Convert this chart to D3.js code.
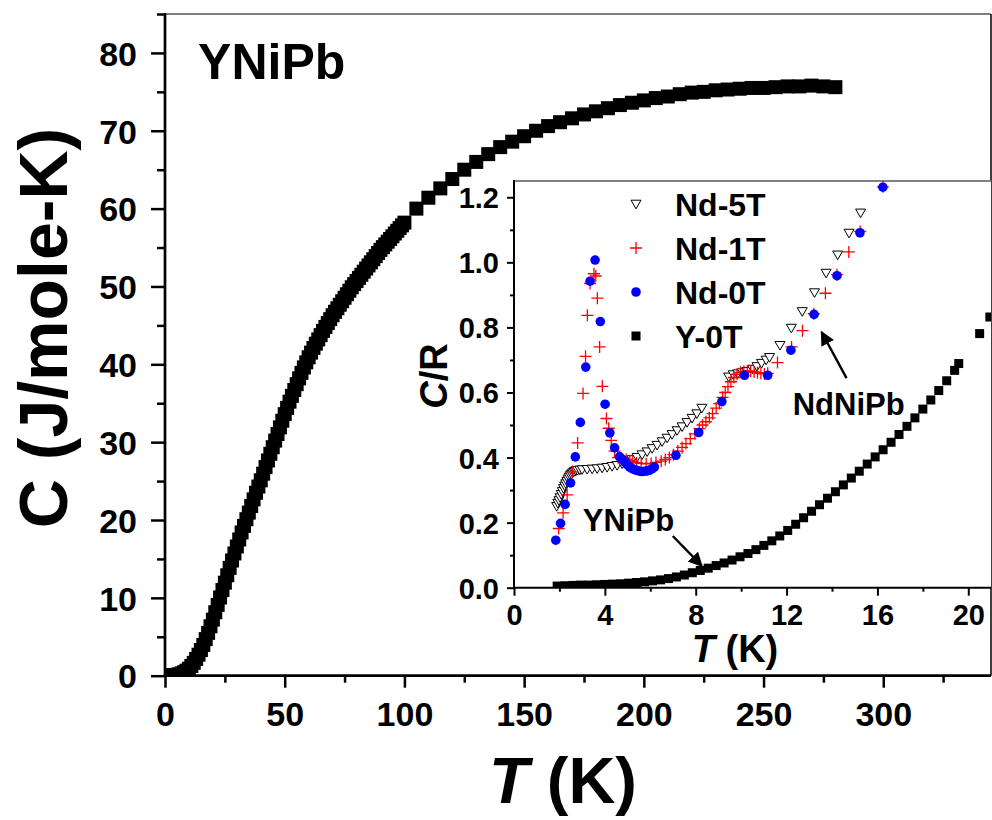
<!DOCTYPE html>
<html>
<head>
<meta charset="utf-8">
<script src="https://cdn.jsdelivr.net/npm/d3@7"></script>
<style>
  body { margin: 0; background: #fff; }
  svg text { font-family: "Liberation Sans", Arial, sans-serif; font-weight: bold; fill: #000; }
</style>
</head>
<body>
<svg id="chart" width="992" height="820"></svg>
<script>
// ---- Main panel: YNiPb specific heat, T (K) vs C (J/mole-K) ----
const mainT = [1.8, 3, 4, 5, 6, 7, 8, 9, 10, 11, 12, 13, 14, 15, 16, 17, 18, 19, 20,
  21, 22, 23, 24, 25, 26, 27, 28, 29, 30, 31, 32, 33, 34, 35, 36, 37, 38, 39, 40,
  41, 42, 43, 44, 45, 46, 47, 48, 49, 50, 51, 52, 53, 54, 55, 56, 57, 58, 59, 60,
  61, 62, 63, 64, 65, 66, 67, 68, 69, 70, 71, 72, 73, 74, 75, 76, 77, 78, 79, 80,
  81, 82, 83, 84, 85, 86, 87, 88, 89, 90, 91, 92, 93, 94, 95, 96, 97, 98, 99, 100,
  105, 110, 115, 120, 125, 130, 135, 140, 145, 150, 155, 160, 165, 170, 175, 180,
  185, 190, 195, 200, 205, 210, 215, 220, 225, 230, 235, 240, 245, 250, 255, 260,
  265, 270, 275, 280];
const mainC = [0.04, 0.06, 0.08, 0.12, 0.18, 0.3, 0.45, 0.65, 0.9, 1.25, 1.65, 2.15, 2.7, 3.3, 3.95, 4.7, 5.5, 6.35, 7.2,
  8.15, 9.1, 10.05, 11.0, 11.95, 12.9, 13.85, 14.8, 15.7, 16.6, 17.5, 18.4, 19.25, 20.1, 20.95, 21.8, 22.65, 23.5, 24.3, 25.1,
  25.95, 26.8, 27.65, 28.5, 29.35, 30.2, 31.05, 31.9, 32.75, 33.6, 34.4, 35.2, 35.95, 36.7, 37.45, 38.2, 38.9, 39.6, 40.25, 40.9,
  41.5, 42.1, 42.65, 43.2, 43.75, 44.3, 44.8, 45.3, 45.8, 46.3, 46.75, 47.2, 47.65, 48.1, 48.55, 49.0, 49.45, 49.9, 50.3, 50.7,
  51.1, 51.5, 51.9, 52.3, 52.7, 53.1, 53.5, 53.9, 54.3, 54.7, 55.05, 55.4, 55.75, 56.1, 56.45, 56.8, 57.15, 57.5, 57.85, 58.2,
  60.0, 61.4, 62.6, 63.8, 65.0, 66.0, 67.0, 67.9, 68.6, 69.3, 70.0, 70.6, 71.1, 71.6, 72.1, 72.5,
  72.9, 73.3, 73.6, 73.9, 74.2, 74.4, 74.7, 74.9, 75.0, 75.2, 75.3, 75.4, 75.5, 75.5, 75.6, 75.7,
  75.7, 75.8, 75.7, 75.6];
const mainXTicks = [0, 50, 100, 150, 200, 250, 300];
const mainXMinor = [25, 75, 125, 175, 225, 275, 325];
const mainYTicks = [0, 10, 20, 30, 40, 50, 60, 70, 80];
const mainYMinor = [5, 15, 25, 35, 45, 55, 65, 75, 85];

// ---- Inset: low-temperature C/R ----
const nd5T_T = [1.88, 1.93, 1.98, 2.03, 2.08, 2.13, 2.18, 2.23, 2.28, 2.33, 2.38, 2.43, 2.48, 2.53, 2.58, 2.63, 2.68, 2.73, 2.80, 2.90, 3.00,
  3.22, 3.44, 3.66, 3.88, 4.10, 4.32, 4.54, 4.76, 4.98, 5.20, 5.42, 5.64, 5.86, 6.08, 6.30, 6.52, 6.74, 6.96, 7.18, 7.40, 7.62, 7.84, 8.05, 8.27,
  9.45, 9.65, 9.85, 10.05, 10.25, 10.50, 10.70, 10.90, 11.10, 11.25,
  11.71, 12.21, 12.69, 13.23, 13.74, 14.25, 14.75, 15.26];
const nd5T_C = [0.250, 0.260, 0.268, 0.277, 0.287, 0.296, 0.305, 0.313, 0.320, 0.327, 0.334, 0.340, 0.345, 0.349, 0.353, 0.356, 0.358, 0.360, 0.361, 0.362, 0.363,
  0.364, 0.365, 0.366, 0.368, 0.370, 0.373, 0.376, 0.381, 0.387, 0.394, 0.401, 0.409, 0.418, 0.428, 0.438, 0.449, 0.460, 0.471, 0.483, 0.495, 0.508, 0.521, 0.535, 0.552,
  0.648, 0.655, 0.658, 0.661, 0.665, 0.672, 0.680, 0.690, 0.700, 0.708,
  0.745, 0.798, 0.849, 0.907, 0.967, 1.023, 1.090, 1.152];

const nd1T_T = [1.97, 2.16, 2.34, 2.57, 2.80, 3.04, 3.15, 3.23, 3.35, 3.52, 3.60, 3.67, 3.77, 3.89, 4.07, 4.17, 4.28, 4.43, 4.58,
  4.72, 4.94, 5.10, 5.23, 5.40, 5.60, 5.82, 6.04, 6.25, 6.48, 6.66, 6.84, 7.02, 7.21, 7.40, 7.57, 7.76, 7.96, 8.16, 8.30, 8.45, 8.60, 8.74, 8.90, 9.04,
  9.18, 9.30, 9.42, 9.55, 9.68, 9.82, 9.97, 10.12, 10.27, 10.42, 10.57, 10.72, 10.87, 11.02, 11.17,
  11.60, 12.22, 12.70, 13.20, 13.71, 14.22, 14.74, 15.24, 16.24];
const nd1T_C = [0.182, 0.230, 0.285, 0.356, 0.445, 0.597, 0.711, 0.837, 0.935, 0.965, 0.958, 0.890, 0.740, 0.619, 0.520, 0.490, 0.453, 0.420, 0.400,
  0.398, 0.394, 0.390, 0.387, 0.384, 0.382, 0.381, 0.382, 0.385, 0.389, 0.394, 0.400, 0.409, 0.420, 0.431, 0.443, 0.458, 0.473, 0.489, 0.500, 0.510, 0.522, 0.535, 0.552, 0.566,
  0.585, 0.600, 0.618, 0.633, 0.646, 0.656, 0.662, 0.665, 0.666, 0.665, 0.663, 0.661, 0.659, 0.657, 0.659,
  0.692, 0.740, 0.790, 0.842, 0.905, 0.962, 1.032, 1.095, 1.232];

const nd0T_T = [1.84, 2.05, 2.25, 2.49, 2.70, 2.92, 3.16, 3.35, 3.57, 3.80, 4.01, 4.22, 4.43, 4.65, 4.76, 4.87, 4.98, 5.09, 5.20, 5.31,
  5.42, 5.53, 5.64, 5.75, 5.86, 5.96, 6.07, 6.18, 7.13, 8.13, 9.15, 10.15, 11.17, 12.19, 13.21, 14.22, 15.23, 16.24];
const nd0T_C = [0.146, 0.198, 0.256, 0.322, 0.402, 0.508, 0.678, 0.942, 1.007, 0.818, 0.564, 0.476, 0.430, 0.402, 0.395, 0.387, 0.378, 0.371, 0.366, 0.363,
  0.360, 0.358, 0.357, 0.358, 0.359, 0.361, 0.365, 0.371, 0.407, 0.477, 0.572, 0.653, 0.653, 0.730, 0.840, 0.959, 1.091, 1.231];

const y0T_T = [1.90, 2.25, 2.60, 2.95, 3.30, 3.65, 4.00, 4.35, 4.70, 5.05, 5.40, 5.75, 6.10, 6.45, 6.80, 7.15, 7.50, 7.85,
  8.20, 8.55, 8.90, 9.25, 9.60, 9.95, 10.30, 10.65, 11.00, 11.35, 11.70, 12.05, 12.40, 12.75, 13.10, 13.45, 13.80,
  14.15, 14.50, 14.85, 15.20, 15.55, 15.90, 16.25, 16.60, 16.95, 17.30, 17.65, 18.00, 18.35, 18.70, 19.05, 19.40, 19.58,
  20.50, 20.95];
const y0T_C = [0.005, 0.006, 0.007, 0.008, 0.008, 0.009, 0.010, 0.011, 0.012, 0.014, 0.016, 0.018, 0.021, 0.024, 0.028, 0.033, 0.039, 0.046,
  0.053, 0.060, 0.068, 0.076, 0.085, 0.095, 0.105, 0.117, 0.130, 0.144, 0.159, 0.176, 0.195, 0.215, 0.235, 0.255, 0.275,
  0.295, 0.316, 0.337, 0.358, 0.380, 0.402, 0.424, 0.447, 0.471, 0.496, 0.522, 0.549, 0.577, 0.606, 0.636, 0.668, 0.689,
  0.781, 0.832];

const insetXTicks = [0, 4, 8, 12, 16, 20];
const insetXMinor = [2, 6, 10, 14, 18];
const insetYTicks = [0, 0.2, 0.4, 0.6, 0.8, 1.0, 1.2];
const insetYMinor = [0.1, 0.3, 0.5, 0.7, 0.9, 1.1];
const legendNames = ["Nd-5T", "Nd-1T", "Nd-0T", "Y-0T"];

const zip = (a, b) => a.map((v, i) => [v, b[i]]);

const svg = d3.select("#chart");

// ---------- main panel ----------
const M = { l: 165, r: 991, t: 14, b: 675.7 };
const x = d3.scaleLinear().domain([0, 345]).range([M.l, M.r]);
const y = d3.scaleLinear().domain([0, 85]).range([M.b, M.t]);

svg.append("clipPath").attr("id", "clipMain")
  .append("rect").attr("x", M.l).attr("y", M.t).attr("width", M.r - M.l).attr("height", M.b - M.t);

const mainSize = 14;
svg.append("g").attr("clip-path", "url(#clipMain)")
  .selectAll("rect").data(zip(mainT, mainC)).join("rect")
  .attr("x", d => x(d[0]) - mainSize / 2)
  .attr("y", d => y(d[1]) - mainSize / 2)
  .attr("width", mainSize).attr("height", mainSize)
  .attr("fill", "#000");

// frame: top and right borders
svg.append("line").attr("x1", M.l).attr("x2", M.r).attr("y1", M.t).attr("y2", M.t)
  .attr("stroke", "#808080").attr("stroke-width", 2);
svg.append("line").attr("x1", M.r).attr("x2", M.r).attr("y1", M.t).attr("y2", M.b)
  .attr("stroke", "#404040").attr("stroke-width", 2);

function styleAxis(g, fontSize, width) {
  g.select(".domain").remove();
  g.selectAll(".tick line").attr("stroke", "#000").attr("stroke-width", width);
  g.selectAll(".tick text").attr("font-size", fontSize).attr("fill", "#000")
    .attr("font-family", '"Liberation Sans", Arial, sans-serif').attr("font-weight", "bold");
}

const gxMinor = svg.append("g").attr("transform", `translate(0,${M.b})`)
  .call(d3.axisBottom(x).tickValues(mainXMinor).tickSize(7).tickSizeOuter(0).tickFormat(""));
styleAxis(gxMinor, 0, 2.5);
const gx = svg.append("g").attr("transform", `translate(0,${M.b})`)
  .call(d3.axisBottom(x).tickValues(mainXTicks).tickSize(12).tickSizeOuter(0).tickFormat(d3.format("d")));
styleAxis(gx, 34, 2.5);
gx.selectAll(".tick text").attr("y", 50).attr("dy", 0);

const gyMinor = svg.append("g").attr("transform", `translate(${M.l},0)`)
  .call(d3.axisLeft(y).tickValues(mainYMinor).tickSize(8).tickSizeOuter(0).tickFormat(""));
styleAxis(gyMinor, 0, 2.5);
const gy = svg.append("g").attr("transform", `translate(${M.l},0)`)
  .call(d3.axisLeft(y).tickValues(mainYTicks).tickSize(14).tickSizeOuter(0).tickFormat(d3.format("d")));
styleAxis(gy, 34, 2.5);
gy.selectAll(".tick text").attr("x", -28).attr("dy", "0.36em");

svg.append("line").attr("x1", M.l).attr("x2", M.l).attr("y1", M.t - 1).attr("y2", M.b + 1.3)
  .attr("stroke", "#000").attr("stroke-width", 2.7);
svg.append("line").attr("x1", M.l - 1.3).attr("x2", M.r).attr("y1", M.b).attr("y2", M.b)
  .attr("stroke", "#000").attr("stroke-width", 2.7);

// axis titles
const yTitle = svg.append("text").attr("transform", "translate(67,328) rotate(-90)")
  .attr("text-anchor", "middle").attr("font-size", 68);
yTitle.append("tspan").text("C (J/mole-K)");

const xTitle = svg.append("text").attr("x", 563).attr("y", 803)
  .attr("text-anchor", "middle").attr("font-size", 65);
xTitle.append("tspan").attr("font-style", "italic").text("T");
xTitle.append("tspan").text(" (K)");

svg.append("text").attr("x", x(13.8)).attr("y", y(76.7)).attr("font-size", 50).text("YNiPb");

// ---------- inset ----------
const I = { l: 514, r: 991, t: 181, b: 587.7 };
const xi = d3.scaleLinear().domain([0, 21]).range([I.l, I.r]);
const yi = d3.scaleLinear().domain([0, 1.25]).range([I.b, I.t]);

svg.append("rect").attr("x", I.l).attr("y", I.t).attr("width", I.r - I.l).attr("height", I.b - I.t)
  .attr("fill", "#fff");
svg.append("clipPath").attr("id", "clipInset")
  .append("rect").attr("x", I.l).attr("y", I.t).attr("width", I.r - I.l).attr("height", I.b - I.t);

svg.append("line").attr("x1", I.l).attr("x2", I.r).attr("y1", I.t).attr("y2", I.t)
  .attr("stroke", "#808080").attr("stroke-width", 2);

const plot = svg.append("g").attr("clip-path", "url(#clipInset)");

const triPath = "M-5,-3.8L5,-3.8L0,4.8Z";
const plusPath = "M-6,0H6M0,-6V6";
const dotR = 4.8;
const sqS = 9;

function drawTri(g, data) {
  g.selectAll(null).data(data).join("path")
    .attr("d", triPath).attr("transform", d => `translate(${xi(d[0])},${yi(d[1])})`)
    .attr("fill", "#fff").attr("stroke", "#000").attr("stroke-width", 1);
}
function drawPlus(g, data) {
  g.selectAll(null).data(data).join("path")
    .attr("d", plusPath).attr("transform", d => `translate(${xi(d[0])},${yi(d[1])})`)
    .attr("fill", "none").attr("stroke", "#ff0000").attr("stroke-width", 1.3);
}
function drawDot(g, data) {
  g.selectAll(null).data(data).join("circle")
    .attr("cx", d => xi(d[0])).attr("cy", d => yi(d[1])).attr("r", dotR)
    .attr("fill", "#0000ff");
}
function drawSq(g, data) {
  g.selectAll(null).data(data).join("rect")
    .attr("x", d => xi(d[0]) - sqS / 2).attr("y", d => yi(d[1]) - sqS / 2)
    .attr("width", sqS).attr("height", sqS).attr("fill", "#000");
}

drawTri(plot.append("g"), zip(nd5T_T, nd5T_C));
drawPlus(plot.append("g"), zip(nd1T_T, nd1T_C));
drawDot(plot.append("g"), zip(nd0T_T, nd0T_C));
drawSq(plot.append("g"), zip(y0T_T, y0T_C));

// inset axes
const gxiMinor = svg.append("g").attr("transform", `translate(0,${I.b})`)
  .call(d3.axisBottom(xi).tickValues(insetXMinor).tickSize(4).tickSizeOuter(0).tickFormat(""));
styleAxis(gxiMinor, 0, 2);
const gxi = svg.append("g").attr("transform", `translate(0,${I.b})`)
  .call(d3.axisBottom(xi).tickValues(insetXTicks).tickSize(8).tickSizeOuter(0).tickFormat(d3.format("d")));
styleAxis(gxi, 29, 2);
gxi.selectAll(".tick text").attr("y", 37).attr("dy", 0);

const gyiMinor = svg.append("g").attr("transform", `translate(${I.l},0)`)
  .call(d3.axisLeft(yi).tickValues(insetYMinor).tickSize(4).tickSizeOuter(0).tickFormat(""));
styleAxis(gyiMinor, 0, 2);
const gyi = svg.append("g").attr("transform", `translate(${I.l},0)`)
  .call(d3.axisLeft(yi).tickValues(insetYTicks).tickSize(7).tickSizeOuter(0).tickFormat(d3.format(".1f")));
styleAxis(gyi, 29, 2);
gyi.selectAll(".tick text").attr("x", -15).attr("dy", "0.36em");

svg.append("line").attr("x1", I.l).attr("x2", I.l).attr("y1", I.t - 1).attr("y2", I.b + 1)
  .attr("stroke", "#000").attr("stroke-width", 2);
svg.append("line").attr("x1", I.l - 1).attr("x2", I.r).attr("y1", I.b).attr("y2", I.b)
  .attr("stroke", "#000").attr("stroke-width", 2);

const xiTitle = svg.append("text").attr("x", 735).attr("y", 662)
  .attr("text-anchor", "middle").attr("font-size", 38);
xiTitle.append("tspan").attr("font-style", "italic").text("T");
xiTitle.append("tspan").text(" (K)");

const yiTitle = svg.append("text").attr("transform", "translate(447,376) rotate(-90)")
  .attr("text-anchor", "middle").attr("font-size", 38);
yiTitle.append("tspan").attr("font-style", "italic").text("C");
yiTitle.append("tspan").text("/R");

// legend
const legY = [204, 248, 292, 336];
const legX = 636;
const lg = svg.append("g");
lg.append("path").attr("d", triPath).attr("transform", `translate(${legX},${legY[0]})`)
  .attr("fill", "#fff").attr("stroke", "#000").attr("stroke-width", 1);
lg.append("path").attr("d", plusPath).attr("transform", `translate(${legX},${legY[1]})`)
  .attr("fill", "none").attr("stroke", "#ff0000").attr("stroke-width", 1.3);
lg.append("circle").attr("cx", legX).attr("cy", legY[2]).attr("r", dotR).attr("fill", "#0000ff");
lg.append("rect").attr("x", legX - sqS / 2).attr("y", legY[3] - sqS / 2).attr("width", sqS).attr("height", sqS).attr("fill", "#000");
legendNames.forEach((n, i) => {
  lg.append("text").attr("x", 675).attr("y", legY[i] + 11.5).attr("font-size", 32).text(n);
});

// annotations with arrows
svg.append("defs").append("marker").attr("id", "arrowHead")
  .attr("viewBox", "0 0 10 10").attr("refX", 9).attr("refY", 5)
  .attr("markerWidth", 6).attr("markerHeight", 6).attr("markerUnits", "strokeWidth")
  .attr("orient", "auto")
  .append("path").attr("d", "M0,0L10,5L0,10Z").attr("fill", "#000");

svg.append("text").attr("x", xi(12.27)).attr("y", yi(0.531)).attr("font-size", 31).text("NdNiPb");
svg.append("line").attr("x1", xi(14.64)).attr("y1", yi(0.644)).attr("x2", xi(13.54)).attr("y2", yi(0.786))
  .attr("stroke", "#000").attr("stroke-width", 2.4).attr("marker-end", "url(#arrowHead)");

svg.append("text").attr("x", xi(3.03)).attr("y", yi(0.174)).attr("font-size", 31).text("YNiPb");
svg.append("line").attr("x1", xi(6.99)).attr("y1", yi(0.159)).attr("x2", xi(8.27)).attr("y2", yi(0.067))
  .attr("stroke", "#000").attr("stroke-width", 2.4).attr("marker-end", "url(#arrowHead)");
</script>
</body>
</html>
